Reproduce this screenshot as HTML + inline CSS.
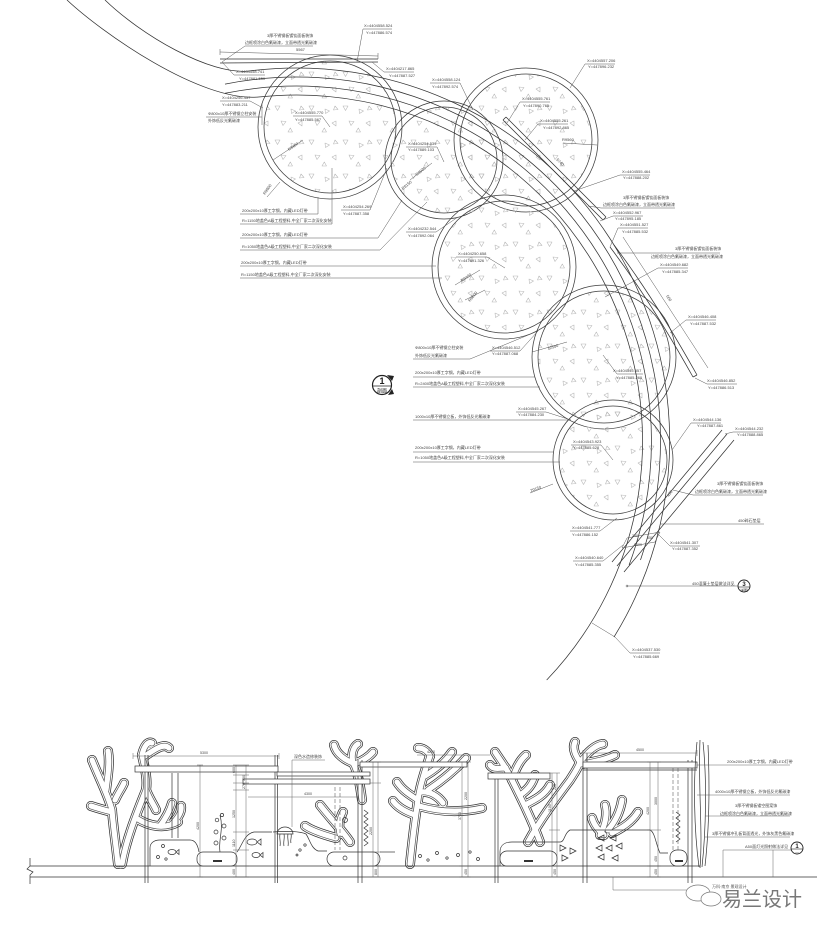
<!DOCTYPE html>
<html><head><meta charset="utf-8"><title>plan</title>
<style>
html,body{margin:0;padding:0;background:#fff;width:829px;height:931px;overflow:hidden}
svg{display:block}
text{font-family:"Liberation Sans","Noto Sans CJK SC",sans-serif;fill:#444}
.t{font-size:4px}
.s{font-size:3.6px}
</style></head><body>
<svg width="829" height="931" viewBox="0 0 829 931" xmlns="http://www.w3.org/2000/svg">
<defs>
<pattern id="tri" width="34" height="34" patternUnits="userSpaceOnUse">
<g fill="none" stroke="#b8b8b8" stroke-width="0.6" stroke-linejoin="round">
<path d="M3,4 h5 l-2.5,4.5z"/>
<path d="M19,7 l4.5,2 l-4,2.5z"/>
<path d="M9,19 l5,0.5 l-3,4z"/>
<path d="M26,21 l4,-2 l0,5z"/>
<path d="M16,30 l4.5,0 l-2.2,-4z"/>
<path d="M29,4 l3,3.5 l-4.5,0.5z"/>
</g>
</pattern>
<g id="cor">
<path d="M118,864 C116,845 113,825 112,810 C108,795 100,780 92,760"/>
<path d="M112,812 C104,810 97,808 91,806"/>
<path d="M106,790 C108,775 110,762 108,751"/>
<path d="M115,800 C118,793 122,788 124,783"/>
<path d="M122,864 C126,840 136,815 146,790 C148,778 144,765 142,755"/>
<path d="M142,755 C144,746 148,741 152,743"/>
<path d="M145,756 C155,749 164,743 169,748"/>
<path d="M146,790 C150,800 154,805 156,810"/>
<path d="M136,818 C150,827 165,829 178,822"/>
<path d="M160,826 C166,818 170,810 172,803"/>
<path d="M172,824 C178,818 182,812 181,806"/>
<path d="M362,800 C360,785 358,772 353,763"/>
<path d="M353,763 C345,760 336,754 334,745"/>
<path d="M353,763 C351,755 353,747 358,744"/>
<path d="M355,764 C362,761 369,757 373,752"/>
<path d="M350,842 C342,830 330,818 320,805"/>
<path d="M340,834 C338,826 340,818 343,812"/>
<path d="M336,838 C325,835 312,831 305,826"/>
<path d="M410,864 C412,845 414,825 418,800 C420,785 425,770 430,756"/>
<path d="M418,800 C410,795 402,790 397,782"/>
<path d="M415,815 C406,812 398,808 393,801"/>
<path d="M421,792 C430,791 438,796 443,803"/>
<path d="M425,776 C435,770 445,762 452,752"/>
<path d="M430,756 C427,750 422,748 418,748"/>
<path d="M419,806 C440,812 460,813 482,808"/>
<path d="M428,790 C443,780 455,770 466,758"/>
<path d="M540,842 C532,820 522,800 512,780 C508,770 500,760 495,752"/>
<path d="M512,780 C515,770 520,760 526,755"/>
<path d="M506,768 C499,768 493,770 490,765"/>
<path d="M525,805 C535,800 545,795 550,785"/>
<path d="M520,795 C528,790 533,783 535,775"/>
<path d="M528,842 C540,820 555,800 570,780 C575,772 578,768 580,762"/>
<path d="M580,762 C575,755 572,748 575,742"/>
<path d="M580,762 C588,752 595,745 603,744"/>
<path d="M582,764 C592,762 605,760 615,755"/>
<path d="M600,835 C605,825 608,815 605,805"/>
<path d="M608,830 C615,822 620,812 622,800"/>
<path d="M612,833 C622,828 632,822 638,812"/>
<path d="M604,835 C598,830 594,825 592,818"/>
</g>
</defs>
<rect width="829" height="931" fill="#fff"/>

<!-- PLAN: circles -->
<g fill="none" stroke="#3c3c3c" stroke-width="0.75">
<circle cx="330" cy="127" r="72"/><circle cx="330" cy="127" r="66" fill="url(#tri)"/>
<circle cx="444" cy="160" r="59"/><circle cx="444" cy="160" r="53" fill="url(#tri)"/>
<circle cx="526" cy="140" r="72"/><circle cx="526" cy="140" r="66" fill="url(#tri)"/>
<circle cx="504" cy="267" r="72"/><circle cx="504" cy="267" r="66" fill="url(#tri)"/>
<circle cx="604" cy="357" r="72"/><circle cx="604" cy="357" r="66" fill="url(#tri)"/>
<circle cx="613" cy="460" r="60"/><circle cx="613" cy="460" r="54" fill="url(#tri)"/>
</g>

<!-- walkway arcs -->
<g fill="none" stroke="#333" stroke-width="0.75">
<path d="M67,0 C100,31 200,103 260,96.9 A346,346 0 0 1 546.7,680"/>
<path d="M105,0 C140,34 210,76 250,70.9 A373,373 0 0 1 614,637"/>
<path d="M225,93.3 A355,355 0 0 1 629.1,565"/>
<path d="M225,84.1 A364,364 0 0 1 640.5,560"/>
<path d="M503,120 L603,220 M506,117 L606,217 M503,120 L506,117 M603,220 L606,217"/>
<path d="M610,247 Q650,300 693,377 M614,245 Q654,298 697,375 M693,377 L697,375"/>
<path d="M722,430 L612,562 M727,434 L617,566 M734,440 L624,572"/>
<path d="M220,59 L378,59 M220,63 L378,62"/>
</g>

<!-- leaders / dims -->
<g fill="none" stroke="#555" stroke-width="0.5">
<path d="M220,52 L378,56 M220,49 V55 M378,53 V59"/>
<path d="M357,62 L363,29 L392,29"/>
<path d="M222,62 L245,46 L313,46"/>
<path d="M222,62 L234,75 L265,75"/>
<path d="M372,62 L384,72 L414,72"/>
<path d="M263,108 L250,101 L220,101"/>
<path d="M262,117 L206,117 M262,103 V125"/>
<path d="M293,116 L322,116 L330,127"/>
<path d="M240,214 L318,214 L318,197"/>
<path d="M240,224 L332,224 L332,168"/>
<path d="M341,210 L370,210 L387,168"/>
<path d="M240,238 L378,238 L402,200"/>
<path d="M240,250 L380,250 L427,202"/>
<path d="M240,266 L436,266"/>
<path d="M240,278 L442,278"/>
<path d="M406,232 L436,232 L458,217"/>
<path d="M456,257 L487,257 L505,268"/>
<path d="M430,83 L460,83 L473,110"/>
<path d="M406,147 L437,147 L444,162"/>
<path d="M550,102 L520,102 L507,123"/>
<path d="M568,124 L538,124 L525,140"/>
<path d="M563,143 L597,145"/>
<path d="M615,64 L585,64 L570,88"/>
<path d="M650,175 L620,175 L574,191"/>
<path d="M675,208 L601,208 L588,206"/>
<path d="M643,216 L613,216 L600,221"/>
<path d="M648,228 L618,228 L610,247"/>
<path d="M720,253 L617,253"/>
<path d="M688,268 L658,268 L605,297"/>
<path d="M623,237 L708,368"/>
<path d="M716,320 L686,320 L670,333"/>
<path d="M737,384 L707,384 L695,378"/>
<path d="M490,351 L520,351 L538,331"/>
<path d="M413,359 L470,359 L538,331"/>
<path d="M532,352 L567,342"/>
<path d="M603,355 L617,374 L643,374"/>
<path d="M413,377 L535,377"/>
<path d="M413,387 L540,387"/>
<path d="M413,420 L570,420"/>
<path d="M516,412 L546,412 L571,420"/>
<path d="M413,452 L554,452"/>
<path d="M413,462 L560,462"/>
<path d="M571,445 L601,445 L613,460"/>
<path d="M530,493 L553,484"/>
<path d="M721,423 L691,423 L672,450"/>
<path d="M763,432 L733,432 L725,434"/>
<path d="M763,495 L693,495 L673,490"/>
<path d="M764,524 L660,524"/>
<path d="M570,531 L600,531 L617,518"/>
<path d="M627,538 L660,532 M622,548 L655,542 M627,538 L622,548 M660,532 L655,542"/>
<path d="M700,546 L670,546 L657,533"/>
<path d="M573,561 L603,561 L623,545"/>
<path d="M627,586 L738,586"/>
<path d="M660,653 L630,653 L615,637 L592,623"/>
<path d="M273,160 L303,140 M267,197 L280,182 M455,285 L480,270 M465,300 L485,290 M410,180 L432,163"/>
</g>
<circle cx="627" cy="586" r="1" fill="none" stroke="#555" stroke-width="0.5"/>

<!-- plan texts -->
<text class="t" x="364" y="27">X=4404558.524</text><text class="t" x="366" y="34">Y=447886.574</text>
<text class="t" x="267" y="37">3厚不锈钢板镀钛面板装饰</text>
<text class="t" x="245" y="44">边框喷涂白色氟碳漆，立面带透光氟碳漆</text>
<text class="t" x="296" y="51">5567</text>
<text class="t" x="236" y="73">X=4404558.741</text><text class="t" x="239" y="80">Y=447881.550</text>
<text class="t" x="386" y="70">X=4404217.865</text><text class="t" x="389" y="77">Y=447887.527</text>
<text class="t" x="222" y="99">X=4404256.457</text><text class="t" x="222" y="106">Y=447883.211</text>
<text class="t" x="208" y="115">Φ800x10厚不锈钢立柱安装</text><text class="t" x="208" y="122">外饰低反光氟碳漆</text>
<text class="t" x="295" y="114">X=4404555.770</text><text class="t" x="295" y="121">Y=447885.567</text>
<text class="t" transform="translate(289,151) rotate(-35)">R9400</text>
<text class="t" transform="translate(265,195) rotate(-55)">R9600</text>
<text class="t" x="242" y="212">200x200x10厚工字钢，内藏LED灯带</text>
<text class="t" x="242" y="222">R=1150地盖色A级工程塑料,中全厂家二次深化安装</text>
<text class="t" x="343" y="208">X=4404254.269</text><text class="t" x="343" y="215">Y=447887.358</text>
<text class="t" x="242" y="236">200x200x10厚工字钢，内藏LED灯带</text>
<text class="t" x="242" y="248">R=1050地盖色A级工程塑料,中全厂家二次深化安装</text>
<text class="t" x="241" y="264">200x200x10厚工字钢，内藏LED灯带</text>
<text class="t" x="241" y="276">R=1150地盖色A级工程塑料,中全厂家二次深化安装</text>
<text class="t" x="408" y="230">X=4404232.544</text><text class="t" x="408" y="237">Y=447892.064</text>
<text class="t" x="458" y="255">X=4404250.658</text><text class="t" x="458" y="262">Y=447891.326</text>
<text class="t" x="432" y="81">X=4404558.124</text><text class="t" x="432" y="88">Y=447892.574</text>
<text class="t" x="408" y="145">X=4404254.539</text><text class="t" x="408" y="151">Y=447889.103</text>
<text class="t" transform="translate(417,176) rotate(-40)">R9920</text>
<text class="t" transform="translate(403,190) rotate(-40)">R8150</text>
<text class="t" transform="translate(462,282) rotate(-35)">R9400</text>
<text class="t" transform="translate(470,302) rotate(-50)">R9600</text>
<text class="t" x="522" y="100">X=4404555.761</text><text class="t" x="523" y="107">Y=447890.765</text>
<text class="t" x="540" y="122">X=4404555.261</text><text class="t" x="543" y="129">Y=447892.865</text>
<text class="t" x="562" y="141">R9560</text>
<text class="t" transform="translate(556,160) rotate(45)">5740</text>
<text class="t" x="587" y="62">X=4404557.206</text><text class="t" x="588" y="68">Y=447896.232</text>
<text class="t" x="622" y="173">X=4404555.464</text><text class="t" x="623" y="179">Y=447888.202</text>
<text class="t" x="623" y="199">3厚不锈钢板镀钛面板装饰</text>
<text class="t" x="603" y="206">边框喷涂白色氟碳漆，立面带透光氟碳漆</text>
<text class="t" x="613" y="214">X=4404552.967</text><text class="t" x="615" y="220">Y=447895.185</text>
<text class="t" x="620" y="226">X=4404551.527</text><text class="t" x="622" y="233">Y=447885.532</text>
<text class="t" x="675" y="250">3厚不锈钢板镀钛面板装饰</text>
<text class="t" x="651" y="258">边框喷涂白色氟碳漆，立面带透光氟碳漆</text>
<text class="t" x="660" y="266">X=4404549.682</text><text class="t" x="662" y="273">Y=447885.347</text>
<text class="t" transform="translate(666,296) rotate(58)">560</text>
<text class="t" x="688" y="318">X=4404546.408</text><text class="t" x="690" y="325">Y=447887.532</text>
<text class="t" x="707" y="382">X=4404546.852</text><text class="t" x="708" y="389">Y=447886.513</text>
<text class="t" x="492" y="349">X=4404546.512</text><text class="t" x="492" y="355">Y=447887.068</text>
<text class="t" x="415" y="349">Φ800x10厚不锈钢立柱安装</text><text class="t" x="415" y="357">外饰低反光氟碳漆</text>
<text class="t" transform="translate(548,350) rotate(-18)">12500</text>
<text class="t" x="613" y="372">X=4404545.557</text><text class="t" x="616" y="379">Y=447885.260</text>
<text class="t" x="415" y="374">200x200x10厚工字钢，内藏LED灯带</text>
<text class="t" x="415" y="385">R=2400地盖色A级工程塑料,中全厂家二次深化安装</text>
<text class="t" x="415" y="418">1000x10厚不锈钢立板，外饰低反光氟碳漆</text>
<text class="t" x="518" y="410">X=4404545.267</text><text class="t" x="518" y="416">Y=447884.230</text>
<text class="t" x="415" y="449">200x200x10厚工字钢，内藏LED灯带</text>
<text class="t" x="415" y="459">R=1050地盖色A级工程塑料,中全厂家二次深化安装</text>
<text class="t" x="573" y="443">X=4404543.923</text><text class="t" x="573" y="449">Y=447885.628</text>
<text class="t" transform="translate(531,492) rotate(-20)">20150</text>
<text class="t" x="693" y="421">X=4404544.136</text><text class="t" x="697" y="427">Y=447887.861</text>
<text class="t" x="735" y="430">X=4404544.232</text><text class="t" x="737" y="436">Y=447888.865</text>
<text class="t" x="717" y="485">3厚不锈钢板镀钛面板装饰</text>
<text class="t" x="695" y="493">边框喷涂白色氟碳漆，立面带透光氟碳漆</text>
<text class="t" transform="translate(669,497) rotate(-55)">450</text>
<text class="t" x="738" y="522">450碎石垫层</text>
<text class="t" x="572" y="529">X=4404541.777</text><text class="t" x="572" y="536">Y=447886.152</text>
<text class="s" x="632" y="537">250</text><text class="s" x="647" y="539">550</text><text class="s" x="634" y="546">1500</text>
<text class="t" x="670" y="544">X=4404541.307</text><text class="t" x="672" y="550">Y=447887.352</text>
<text class="t" x="575" y="559">X=4404540.640</text><text class="t" x="575" y="566">Y=447885.355</text>
<text class="t" x="692" y="585">450混凝土垫层做法详见</text>
<text class="t" x="632" y="651">X=4404537.530</text><text class="t" x="633" y="658">Y=447885.669</text>

<!-- section markers -->
<g stroke="#222" fill="none">
<circle cx="382" cy="385" r="9.5" stroke-width="1.2" fill="#fff"/>
<line x1="373" y1="386" x2="391" y2="386" stroke-width="0.7"/>
<circle cx="744" cy="586" r="6" stroke-width="0.9" fill="#fff"/>
<line x1="738" y1="587" x2="750" y2="587" stroke-width="0.6"/>
<circle cx="797" cy="848" r="6" stroke-width="0.9" fill="#fff"/>
<line x1="791" y1="849" x2="803" y2="849" stroke-width="0.6"/>
</g>
<path d="M387,375 L394,376 L392,381 Z M388,395 L394,394 L392,389 Z" fill="#222"/>
<text x="382" y="384" font-size="9" font-weight="bold" text-anchor="middle" style="fill:#222">1</text>
<text x="382" y="392.5" font-size="5" text-anchor="middle" style="fill:#222">剖面</text>
<text x="744" y="586" font-size="6" font-weight="bold" text-anchor="middle" style="fill:#222">3</text>
<text x="744" y="591.5" font-size="3.6" text-anchor="middle" style="fill:#222">详图</text>
<text x="797" y="848" font-size="6" font-weight="bold" text-anchor="middle" style="fill:#222">1</text>
<text x="797" y="853" font-size="3.6" text-anchor="middle" style="fill:#222">—</text>

<!-- ELEVATION: corals -->
<g fill="none" stroke-linecap="round" stroke-linejoin="round">
<use href="#cor" stroke="#333" stroke-width="10"/>
<use href="#cor" stroke="#fff" stroke-width="8.5"/>
<use href="#cor" stroke="#555" stroke-width="6.6"/>
<use href="#cor" stroke="#fff" stroke-width="5.2"/>
</g>

<g fill="none" stroke="#333" stroke-width="0.7">
<!-- ground -->
<path d="M30,866 H700 M30,877 H817"/>
<path d="M30,858 V866 L27,869 L33,872 L30,875 V884"/>
<!-- mounds & rocks -->
<path d="M150,866 V848 C150,843 154,840 160,840 H190 C196,840 198,846 199,852"/>
<rect x="197" y="852" width="40" height="14" rx="6" fill="#fff"/>
<path d="M237,852 C242,846 244,834 254,832 H272"/>
<path d="M273,832 C285,831 300,831 306,834 C310,840 311,848 318,851 H327"/>
<rect x="327" y="852" width="53" height="14" rx="7" fill="#fff"/>
<path d="M380,852 H395"/>
<path d="M500,866 V852 C500,845 505,842 512,842 H560 C565,842 564,833 570,830 H650 C655,832 656,845 660,853 H668"/>
<rect x="500" y="851" width="57" height="15" rx="7" fill="#fff"/>
<rect x="670" y="850" width="17" height="16" rx="7" fill="#fff"/>
<!-- posts -->
<path d="M145,755 V883 M148,755 V883 M275,755 V883 M277.5,755 V883 M358,760 V883 M362,760 V883 M495,773 V883 M498,773 V883 M583,753 V883 M587,753 V883 M688,760 V883 M692,760 V883"/>
<path d="M172,773 V838 M178,773 V838"/>
<!-- beams -->
<rect x="135" y="766" width="143" height="6" fill="#fff"/>
<rect x="277" y="772" width="93" height="4" fill="#fff"/>
<rect x="243" y="779" width="127" height="5" fill="#fff"/>
<rect x="360" y="762" width="107" height="5" fill="#fff"/>
<rect x="488" y="773" width="62" height="6" fill="#fff"/>
<rect x="583" y="762" width="114" height="6" fill="#fff"/>
<path d="M583,770 H697"/>
<!-- right wall -->
<path d="M697,742 C693,780 694,830 699,867 M703,742 C707,780 706,830 702,867 M700,740 C698,790 703,830 700,868 M708,745 C710,790 709,830 705,866"/>
<!-- jellyfish -->
<path d="M277,834 A8,7 0 0 1 293,834 Z M280,834 c-1,4 1,8 0,12 M284,834 c1,4 -1,8 0,12 M288,834 c-1,4 1,8 0,12 M291,834 c1,3 -1,6 0,9"/>
<!-- fish -->
<ellipse cx="252" cy="842" rx="5" ry="3"/><path d="M257,842 l4,-3 v6 z"/>
<ellipse cx="256" cy="855" rx="4" ry="2.5"/><path d="M260,855 l3,-2.5 v5 z"/>
<ellipse cx="172" cy="852" rx="4" ry="2.5"/><path d="M176,852 l3,-2.5 v5 z"/>
<path d="M598,838 l6,-3 v6 z M610,838 l6,-3 v6 z M596,848 l6,-3 v6 z M606,848 l6,-3 v6 z M616,846 l6,-3 v6 z M598,857 l6,-3 v6 z M612,858 l6,-3 v6 z"/>
<path d="M560,845 l6,3 l-6,3 z M570,848 l6,3 l-6,3 z M562,855 l6,3 l-6,3 z"/>
<!-- seaweed -->
<path d="M220,852 C218,840 224,830 220,815"/>
<circle cx="216" cy="843" r="2"/><circle cx="224" cy="838" r="2"/><circle cx="216" cy="832" r="2"/><circle cx="224" cy="826" r="2"/><circle cx="217" cy="820" r="1.8"/><circle cx="222" cy="815" r="1.6"/>
<path d="M364,810 l4,3 l-4,3 l4,3 l-4,3 l4,3 l-4,3 l4,3 l-4,3 l4,3 l-4,3 l4,3 l-4,3"/>
<path d="M676,812 l4,3 l-4,3 l4,3 l-4,3 l4,3 l-4,3 l4,3 l-4,3 l4,3 l-4,3"/>
<!-- bubbles -->
<circle cx="163" cy="846" r="1.5"/><circle cx="158" cy="857" r="1.5"/><circle cx="166" cy="859" r="1.2"/>
<circle cx="420" cy="856" r="1.5"/><circle cx="428" cy="860" r="1.2"/><circle cx="437" cy="853" r="1.5"/>
<circle cx="447" cy="858" r="1.2"/><circle cx="458" cy="855" r="1.5"/><circle cx="470" cy="852" r="1.2"/>
<circle cx="478" cy="859" r="1.5"/><circle cx="300" cy="850" r="1.2"/><circle cx="305" cy="845" r="1.2"/>
<circle cx="297" cy="855" r="1"/><circle cx="345" cy="820" r="2.5"/><circle cx="345" cy="858" r="2"/>
</g>
<!-- hidden/dashed posts -->
<g fill="none" stroke="#444" stroke-width="0.5" stroke-dasharray="4 2">
<path d="M335,787 V850 M340,787 V850 M673,768 V850 M678,768 V850"/>
</g>
<!-- small labels in rocks -->
<path d="M213,860 h9 v2 h-9z M524,860 h9 v2 h-9z M675,860 h8 v2 h-8z" fill="#333"/>

<!-- elevation dimensions -->
<g fill="none" stroke="#555" stroke-width="0.45">
<path d="M133,756 H279 M133,753 V759 M279,753 V759"/>
<path d="M417,755 H490 M583,753 H697 M583,750 V756 M697,750 V756"/>
<path d="M248,797 H358"/>
<path d="M200,765 V877 M236,765 V877 M246,765 V877 M373,762 V877 M378,762 V877 M462,762 V877 M468,762 V877 M552,773 V877 M557,773 V877 M650,762 V877 M658,762 V877"/>
<path d="M197,765 h6 M197,877 h6 M233,765 h16 M233,775 h16 M233,783 h16 M233,790 h16 M233,832 h16 M233,850 h16 M233,866 h16 M233,877 h16 M370,762 h11 M370,783 h11 M370,852 h11 M370,866 h11 M459,762 h12 M459,866 h12 M459,877 h12 M549,773 h11 M549,830 h11 M549,866 h11 M647,762 h14 M647,830 h14 M647,866 h14 M647,877 h14"/>
<path d="M292,760 H325 M292,760 V827"/>
<path d="M697,765 H790 M697,795 H790 M705,816 H790 M705,837 H790 M723,850 H791 M723,850 V877 M773,850 V877"/>
<path d="M613,877 V890 H700"/>
</g>
<text class="s" x="200" y="754">5300</text>
<text class="s" x="427" y="753">4200</text>
<text class="s" x="636" y="751">4500</text>
<text class="s" x="304" y="795">4300</text>
<text class="t" x="294" y="758">深色水造修装饰</text>
<text class="s" transform="translate(199,830) rotate(-90)">4200</text>
<text class="s" transform="translate(235,773) rotate(-90)">600</text>
<text class="s" transform="translate(245,781) rotate(-90)">300</text>
<text class="s" transform="translate(245,789) rotate(-90)">270</text>
<text class="s" transform="translate(235,818) rotate(-90)">1250</text>
<text class="s" transform="translate(235,847) rotate(-90)">1110</text>
<text class="s" transform="translate(235,875) rotate(-90)">400</text>
<text class="s" transform="translate(372,835) rotate(-90)">2200</text>
<text class="s" transform="translate(377,875) rotate(-90)">800</text>
<text class="s" transform="translate(461,820) rotate(-90)">3700</text>
<text class="s" transform="translate(467,800) rotate(-90)">2200</text>
<text class="s" transform="translate(467,875) rotate(-90)">450</text>
<text class="s" transform="translate(551,812) rotate(-90)">1100</text>
<text class="s" transform="translate(556,790) rotate(-90)">220</text>
<text class="s" transform="translate(556,875) rotate(-90)">450</text>
<text class="s" transform="translate(649,815) rotate(-90)">4200</text>
<text class="s" transform="translate(657,805) rotate(-90)">3000</text>
<text class="s" transform="translate(657,862) rotate(-90)">450</text>
<text class="s" transform="translate(657,875) rotate(-90)">450</text>

<text class="t" x="727" y="763">200x200x10厚工字钢，内藏LED灯带</text>
<text class="t" x="715" y="793">4000x10厚不锈钢立板，外饰低反光氟碳漆</text>
<text class="t" x="735" y="807">3厚不锈钢板镂空图案饰</text>
<text class="t" x="720" y="815">边框喷涂白色氟碳漆，立面带透光氟碳漆</text>
<text class="t" x="712" y="835">3厚不锈钢冲孔板背面透光，外饰灰黑色氟碳漆</text>
<text class="t" x="745" y="848">A50面灯光照射做法详见</text>

<!-- watermark -->
<g fill="#fff" stroke="#777" stroke-width="0.7">
<ellipse cx="698" cy="893" rx="12" ry="8"/>
<ellipse cx="711" cy="899" rx="10" ry="7"/>
</g>
<text x="712" y="888" font-size="4" style="fill:#555">万科·南京 景观设计</text>
<text x="722" y="906" font-size="20" style="fill:#777">易兰设计</text>
</svg>
</body></html>
